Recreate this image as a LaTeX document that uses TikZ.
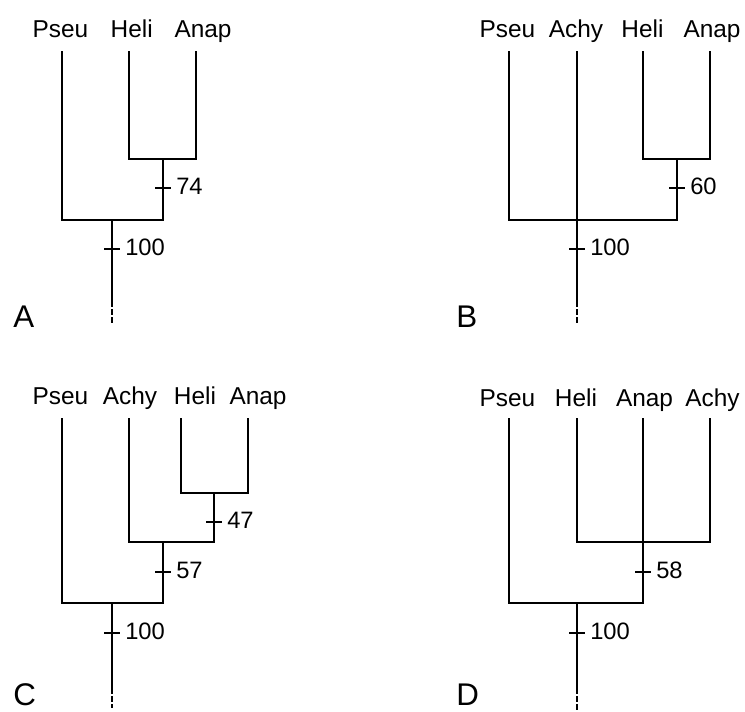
\documentclass[tikz,border=0pt]{standalone}
\usepackage{fontspec}
\setmainfont{Liberation Sans}
\begin{document}
\begin{tikzpicture}[x=0.75pt,y=-0.75pt,
  leaf/.style={anchor=base, inner sep=0pt, font=\fontsize{18.3}{21}\selectfont},
  num/.style={anchor=west, inner sep=0pt, xshift=9.75pt, yshift=1pt, font=\fontsize{17.8}{21}\selectfont},
  panel/.style={anchor=base west, inner sep=0pt, font=\fontsize{23.5}{26}\selectfont},
  br/.style={line width=1.6pt},
  stub/.style={line width=1.6pt, dash pattern=on 4.5pt off 1.5pt}]
\useasboundingbox (0,0) rectangle (745,711);
\fill[white] (0,0) rectangle (745,711);

% ---------- Panel A ----------
\node[leaf] (aP) at (60.5,37.3) {Pseu};
\node[leaf] (aH) at (131.7,37.3) {Heli};
\node[leaf] (aN) at (203,37.3) {Anap};
\coordinate (aPt) at (62,51);
\coordinate (aHt) at (129,51);
\coordinate (aNt) at (196,51);
\coordinate (aHN) at (163,159);
\coordinate (aR) at (112,220);
\coordinate (aS) at (112,301);
\coordinate (aE) at (112,325);
\draw[br] (aHt) |- (aHN) -| (aNt);
\draw[br] (aPt) |- (aR) -| (aHN);
\draw[br] (aR) -- (aS);
\draw[stub] (aS) -- (aE);
\coordinate (aT1) at (163,188);
\draw[br] (aT1) +(-8,0) -- +(8,0);
\node[num] (aL1) at (aT1) {74};
\coordinate (aT2) at (112,249);
\draw[br] (aT2) +(-8,0) -- +(8,0);
\node[num] (aL2) at (aT2) {100};
\node[panel] (aLab) at (13,327) {A};

% ---------- Panel B ----------
\node[leaf] (bP) at (507.5,37.3) {Pseu};
\node[leaf] (bA) at (576,37.3) {Achy};
\node[leaf] (bH) at (642.5,37.3) {Heli};
\node[leaf] (bN) at (712,37.3) {Anap};
\coordinate (bPt) at (509,51);
\coordinate (bAt) at (577,51);
\coordinate (bHt) at (643,51);
\coordinate (bNt) at (710,51);
\coordinate (bHN) at (677,159);
\coordinate (bR) at (577,220);
\coordinate (bS) at (577,301);
\coordinate (bE) at (577,325);
\draw[br] (bHt) |- (bHN) -| (bNt);
\draw[br] (bPt) |- (bR) -| (bHN);
\draw[br] (bAt) -- (bR) -- (bS);
\draw[stub] (bS) -- (bE);
\coordinate (bT1) at (677,188);
\draw[br] (bT1) +(-8,0) -- +(8,0);
\node[num] (bL1) at (bT1) {60};
\coordinate (bT2) at (577,249);
\draw[br] (bT2) +(-8,0) -- +(8,0);
\node[num] (bL2) at (bT2) {100};
\node[panel] (bLab) at (456,327) {B};

% ---------- Panel C ----------
\node[leaf] (cP) at (60.5,404) {Pseu};
\node[leaf] (cA) at (130,404) {Achy};
\node[leaf] (cH) at (195,404) {Heli};
\node[leaf] (cN) at (258,404) {Anap};
\coordinate (cPt) at (62,418);
\coordinate (cAt) at (129,418);
\coordinate (cHt) at (181,418);
\coordinate (cNt) at (248,418);
\coordinate (cHN) at (214,493);
\coordinate (cAHN) at (163,542);
\coordinate (cR) at (112,603);
\coordinate (cS) at (112,688);
\coordinate (cE) at (112,708);
\draw[br] (cHt) |- (cHN) -| (cNt);
\draw[br] (cAt) |- (cAHN) -| (cHN);
\draw[br] (cPt) |- (cR) -| (cAHN);
\draw[br] (cR) -- (cS);
\draw[stub] (cS) -- (cE);
\coordinate (cT1) at (214,522);
\draw[br] (cT1) +(-8,0) -- +(8,0);
\node[num] (cL1) at (cT1) {47};
\coordinate (cT2) at (163,572);
\draw[br] (cT2) +(-8,0) -- +(8,0);
\node[num] (cL2) at (cT2) {57};
\coordinate (cT3) at (112,633);
\draw[br] (cT3) +(-8,0) -- +(8,0);
\node[num] (cL3) at (cT3) {100};
\node[panel] (cLab) at (13,705) {C};

% ---------- Panel D ----------
\node[leaf] (dP) at (507.5,406) {Pseu};
\node[leaf] (dH) at (576,406) {Heli};
\node[leaf] (dN) at (644.5,406) {Anap};
\node[leaf] (dA) at (712.5,406) {Achy};
\coordinate (dPt) at (509,418);
\coordinate (dHt) at (577,418);
\coordinate (dNt) at (643,418);
\coordinate (dAt) at (710,418);
\coordinate (dX) at (643,542);
\coordinate (dR) at (577,603);
\coordinate (dS) at (577,688);
\coordinate (dE) at (577,710);
\draw[br] (dHt) |- (dX) -| (dAt);
\draw[br] (dNt) -- (dX);
\draw[br] (dPt) |- (dR) -| (dX);
\draw[br] (dR) -- (dS);
\draw[stub] (dS) -- (dE);
\coordinate (dT1) at (643,572);
\draw[br] (dT1) +(-8,0) -- +(8,0);
\node[num] (dL1) at (dT1) {58};
\coordinate (dT2) at (577,633);
\draw[br] (dT2) +(-8,0) -- +(8,0);
\node[num] (dL2) at (dT2) {100};
\node[panel] (dLab) at (456,705) {D};
\end{tikzpicture}
\end{document}
